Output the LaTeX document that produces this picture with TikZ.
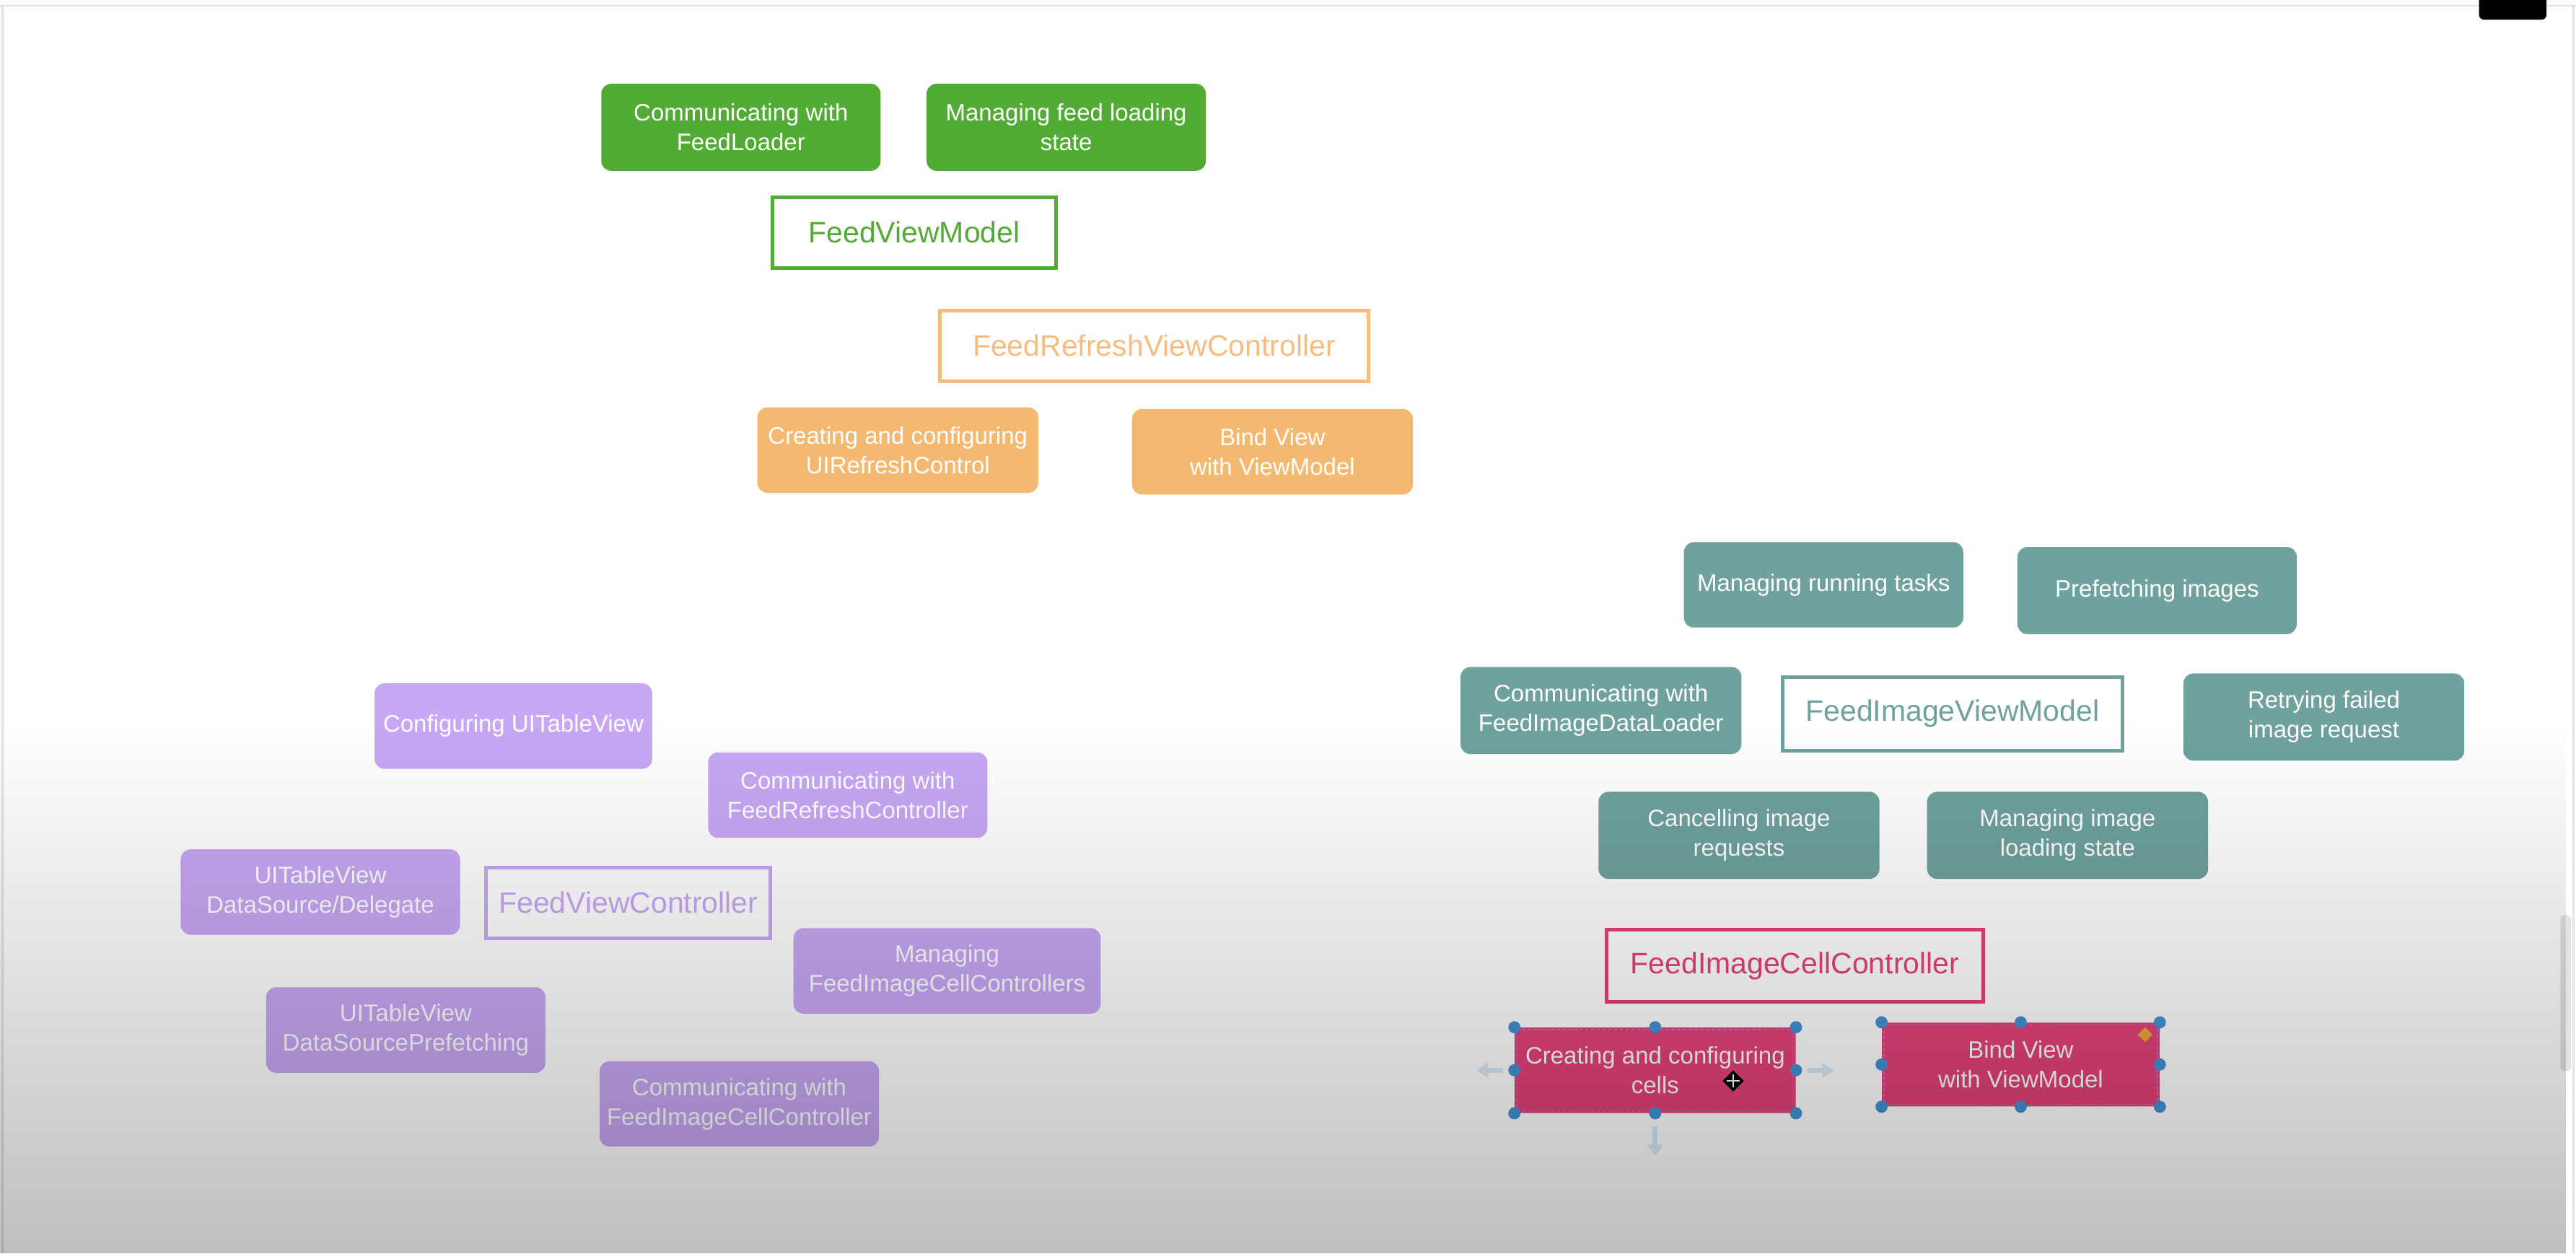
\documentclass[tikz,border=0pt]{standalone}
\usepackage{fontspec}
\setmainfont{Liberation Sans}
\usetikzlibrary{fadings,arrows.meta}

\definecolor{fgreen}{HTML}{52AB34}
\definecolor{forange}{HTML}{F4B970}
\definecolor{forangeline}{HTML}{F6BD80}
\definecolor{fteal}{HTML}{6FA29D}
\definecolor{fpurple}{HTML}{C8A8F5}
\definecolor{fpink}{HTML}{E4427A}
\definecolor{handle}{HTML}{4593D3}
\definecolor{nudge}{HTML}{DCEAF6}
\definecolor{edge}{HTML}{E2E2E2}
\definecolor{corner}{HTML}{F0A83A}

% darkening towards the lower edge of the canvas
\tikzfading[name=dimdown, top color=transparent!100, bottom color=transparent!0]

\begin{document}
\begin{tikzpicture}[x=1pt,y=-1pt,
  sz/.style 2 args={minimum width=#1pt, minimum height=#2pt},
  task/.style={rounded corners=6pt, inner sep=0pt, align=center, text=white,
               font=\fontsize{14.5}{18}\selectfont},
  role/.style={draw, line width=2.2pt, fill=white, inner sep=0pt,
               font=\fontsize{18}{22}\selectfont},
  grip/.style={circle, fill=handle, inner sep=0pt, minimum size=7.4pt},
  nudgearrow/.style={draw=nudge, line width=3pt, -{Triangle[length=7pt,width=9pt]}},
]
\useasboundingbox (0,0) rectangle (1568,763);
\fill[white] (0,0) rectangle (1568,763);

% window frame
\fill[gray!4] (0,0) rectangle (1568,3);
\draw[edge, line width=1.2pt] (0,3.5) -- (1568,3.5);
\draw[edge, line width=1.2pt] (1.5,3.5) -- (1.5,763);
\draw[edge, line width=1.2pt] (1566.5,3.5) -- (1566.5,763);
\begin{scope}
  \clip (0,0) rectangle (1568,763);
  \fill[black, rounded corners=3pt] (1509,-8) rectangle (1550,12);
\end{scope}
\fill[gray!22, rounded corners=3pt] (1558.5,557) rectangle (1565,652);

% FeedViewModel
\node[task, fill=fgreen, sz={170}{53}] (gA) at (451,77.5) {Communicating with\\FeedLoader};
\node[task, fill=fgreen, sz={170}{53}] (gB) at (649,77.5) {Managing feed loading\\state};
\node[role, draw=fgreen, text=fgreen, sz={173}{43}] (gVM) at (556.5,141.5) {FeedViewModel};

% FeedRefreshViewController
\node[role, draw=forangeline, text=forangeline, sz={261}{43}] (oVC) at (702.5,210.5) {FeedRefreshViewController};
\node[task, fill=forange, sz={171}{52}] (oA) at (546.5,274) {Creating and configuring\\UIRefreshControl};
\node[task, fill=forange, sz={171}{52}] (oB) at (774.5,275) {Bind View\\with ViewModel};

% FeedImageViewModel
\node[task, fill=fteal, sz={170}{52}] (tA) at (1110,356) {Managing running tasks};
\node[task, fill=fteal, sz={170}{53}] (tB) at (1313,359.5) {Prefetching images};
\node[task, fill=fteal, sz={171}{53}] (tC) at (974.5,432.5) {Communicating with\\FeedImageDataLoader};
\node[role, draw=fteal, text=fteal, sz={207}{45}] (tVM) at (1188.5,434.5) {FeedImageViewModel};
\node[task, fill=fteal, sz={171}{53}] (tD) at (1414.5,436.5) {Retrying failed\\image request};
\node[task, fill=fteal, sz={171}{53}] (tE) at (1058.5,508.5) {Cancelling image\\requests};
\node[task, fill=fteal, sz={171}{53}] (tF) at (1258.5,508.5) {Managing image\\loading state};

% FeedViewController
\node[task, fill=fpurple, sz={169}{52}] (uA) at (312.5,442) {Configuring UITableView};
\node[task, fill=fpurple, sz={170}{52}] (uB) at (516,484) {Communicating with\\FeedRefreshController};
\node[task, fill=fpurple, sz={170}{52}] (uC) at (195,543) {UITableView\\DataSource/Delegate};
\node[role, draw=fpurple, text=fpurple, sz={173}{43}] (uVC) at (382.5,549.5) {FeedViewController};
\node[task, fill=fpurple, sz={187}{52}] (uD) at (576.5,591) {Managing\\FeedImageCellControllers};
\node[task, fill=fpurple, sz={170}{52}] (uE) at (247,627) {UITableView\\DataSourcePrefetching};
\node[task, fill=fpurple, sz={170}{52}] (uF) at (450,672) {Communicating with\\FeedImageCellController};

% FeedImageCellController
\node[role, draw=fpink, text=fpink, sz={229}{44}] (pVC) at (1092.5,588) {FeedImageCellController};
\node[task, fill=fpink, rounded corners=1pt, sz={171}{52}] (pA) at (1007.5,651.5) {Creating and configuring\\cells};
\node[task, fill=fpink, rounded corners=1pt, sz={169}{51}] (pB) at (1230,648) {Bind View\\with ViewModel};

% selection outlines and handles
\foreach \b in {pA,pB}{
  \draw[violet!55, line width=0.6pt, dash pattern=on 2pt off 1.5pt]
    ([xshift=1.5pt,yshift=-1.5pt]\b.north west) rectangle ([xshift=-1.5pt,yshift=1.5pt]\b.south east);
  \foreach \a in {north west,north,north east,west,east,south west,south,south east}
    \node[grip] at (\b.\a) {};
}
\coordinate (pAl) at ([xshift=-7pt]pA.west);
\coordinate (pAr) at ([xshift=7pt]pA.east);
\coordinate (pAd) at ([yshift=-8pt]pA.south);
\draw[nudgearrow] (pAl) -- ++(-16,0);
\draw[nudgearrow] (pAr) -- ++(16,0);
\draw[nudgearrow] (pAd) -- ++(0,18);
\fill[corner] ([xshift=-9pt,yshift=-3pt]pB.north east) -- ++(4.5,4.5) -- ++(-4.5,4.5) -- ++(-4.5,-4.5) -- cycle;

% move cursor
\begin{scope}[shift={(1055,658)}]
  \fill[black] (0,-6.5) -- (6.5,0) -- (0,6.5) -- (-6.5,0) -- cycle;
  \draw[white, line width=0.8pt] (-4,0) -- (4,0) (0,-4) -- (0,4);
\end{scope}

% dimming towards the bottom
\fill[black, opacity=0.25, path fading=dimdown] (0,440) rectangle (1568,763);
\end{tikzpicture}
\end{document}
